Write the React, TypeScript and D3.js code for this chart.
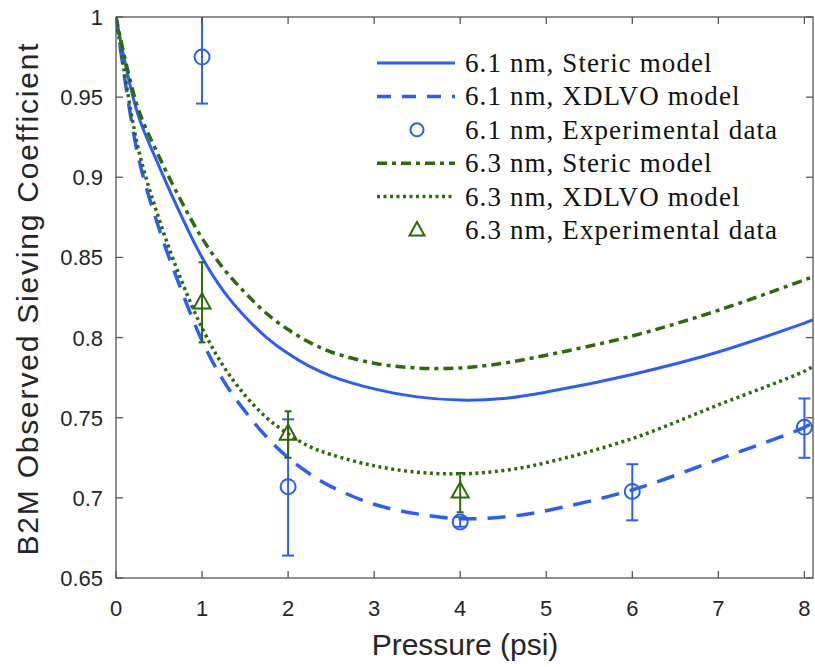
import React from "react";
import * as d3 from "d3";

// ---- data ----
const pressureGrid = [0, 0.25, 0.5, 0.75, 1, 1.25, 1.5, 1.75, 2, 2.25, 2.5, 3, 3.5, 4, 4.5, 5, 6, 7, 8, 8.1];
const steric61 = [1, 0.940, 0.907, 0.877, 0.850, 0.829, 0.813, 0.800, 0.790, 0.782, 0.776, 0.768, 0.763, 0.761, 0.762, 0.766, 0.777, 0.791, 0.809, 0.811];
const xdlvo61 = [1, 0.915, 0.868, 0.831, 0.798, 0.773, 0.754, 0.738, 0.725, 0.715, 0.707, 0.696, 0.690, 0.687, 0.688, 0.692, 0.705, 0.724, 0.744, 0.747];
const steric63 = [1, 0.944, 0.913, 0.886, 0.862, 0.843, 0.828, 0.815, 0.805, 0.797, 0.791, 0.784, 0.781, 0.781, 0.784, 0.789, 0.801, 0.817, 0.836, 0.838];
const xdlvo63 = [1, 0.920, 0.874, 0.837, 0.806, 0.782, 0.764, 0.750, 0.740, 0.732, 0.727, 0.720, 0.716, 0.715, 0.717, 0.722, 0.737, 0.758, 0.779, 0.782];

const exp61X = [1, 2, 4, 6, 8];
const exp61Y = [0.975, 0.707, 0.685, 0.704, 0.744];
const exp61Lo = [0.946, 0.664, 0.682, 0.686, 0.725];
const exp61Hi = [1.005, 0.749, 0.688, 0.721, 0.762];

const exp63X = [1, 2, 4];
const exp63Y = [0.822, 0.740, 0.704];
const exp63Lo = [0.797, 0.725, 0.691];
const exp63Hi = [0.847, 0.754, 0.7155];

const xTicks = [0, 1, 2, 3, 4, 5, 6, 7, 8];
const yTicks = [0.65, 0.7, 0.75, 0.8, 0.85, 0.9, 0.95, 1];
const yTickLabels = ["0.65", "0.7", "0.75", "0.8", "0.85", "0.9", "0.95", "1"];

const legendLabels = [
  "6.1 nm, Steric model",
  "6.1 nm, XDLVO model",
  "6.1 nm, Experimental data",
  "6.3 nm, Steric model",
  "6.3 nm, XDLVO model",
  "6.3 nm, Experimental data",
];

const BLUE = "#2b5ff2";
const GREEN = "#2d6a0c";
const AXIS = "#555555";

export default function App() {
  const W = 815, H = 667;
  const left = 116, right = 813, top = 17, bottom = 578;
  const x = d3.scaleLinear().domain([0, 8.1]).range([left, right]);
  const y = d3.scaleLinear().domain([0.65, 1]).range([bottom, top]);

  const mk = (vals: number[]) =>
    d3.line<number>()
      .x((_, i) => x(pressureGrid[i]))
      .y((v) => y(v))
      .curve(d3.curveCatmullRom.alpha(0.5))(vals) || "";

  const series = [
    { vals: steric61, color: BLUE, dash: "none", w: 3 },
    { vals: xdlvo61, color: BLUE, dash: "18,11", w: 3.5 },
    { vals: steric63, color: GREEN, dash: "10,5,4,5", w: 3.5 },
    { vals: xdlvo63, color: GREEN, dash: "3,3.5", w: 3.5 },
  ];

  const triPath = (cx: number, cy: number, s: number) => {
    const h = s * 0.9;
    return `M${cx},${cy - h * 0.6}L${cx + s / 2},${cy + h * 0.4}L${cx - s / 2},${cy + h * 0.4}Z`;
  };

  const legX0 = 377, legX1 = 455, legMk = 417, legText = 465;
  const legY = (i: number) => 63 + i * 33.4;

  return (
    <svg width={W} height={H} style={{ display: "block", position: "absolute", left: 0, top: 0 }}>
      <rect width={W} height={H} fill="white" />
      <defs>
        <clipPath id="plotclip">
          <rect x={left} y={top} width={right - left} height={bottom - top} />
        </clipPath>
      </defs>

      {/* series lines */}
      <g clipPath="url(#plotclip)">
        {series.map((s, i) => (
          <path key={i} d={mk(s.vals)} fill="none" stroke={s.color} strokeWidth={s.w}
            strokeDasharray={s.dash} />
        ))}
        {/* 6.1 exp */}
        {exp61X.map((px, i) => (
          <g key={"b" + i} stroke={BLUE} strokeWidth={2} fill="none">
            <line x1={x(px)} x2={x(px)} y1={y(exp61Lo[i])} y2={y(exp61Hi[i])} />
            <line x1={x(px) - 6} x2={x(px) + 6} y1={y(exp61Lo[i])} y2={y(exp61Lo[i])} />
            <line x1={x(px) - 6} x2={x(px) + 6} y1={y(exp61Hi[i])} y2={y(exp61Hi[i])} />
            <circle cx={x(px)} cy={y(exp61Y[i])} r={7.5} />
          </g>
        ))}
        {/* 6.3 exp */}
        {exp63X.map((px, i) => (
          <g key={"g" + i} stroke={GREEN} strokeWidth={2} fill="none">
            <line x1={x(px)} x2={x(px)} y1={y(exp63Lo[i])} y2={y(exp63Hi[i])} />
            <line x1={x(px) - 3.5} x2={x(px) + 3.5} y1={y(exp63Lo[i])} y2={y(exp63Lo[i])} />
            <line x1={x(px) - 3.5} x2={x(px) + 3.5} y1={y(exp63Hi[i])} y2={y(exp63Hi[i])} />
            <path d={triPath(x(px), y(exp63Y[i]), 17)} />
          </g>
        ))}
      </g>

      {/* axes box */}
      <rect x={left} y={top} width={right - left} height={bottom - top} fill="none" stroke={AXIS} strokeWidth={1.3} />
      {xTicks.map((t) => (
        <g key={"xt" + t}>
          <line x1={x(t)} x2={x(t)} y1={bottom} y2={bottom - 7} stroke={AXIS} strokeWidth={1.3} />
          <line x1={x(t)} x2={x(t)} y1={top} y2={top + 7} stroke={AXIS} strokeWidth={1.3} />
          <text x={x(t)} y={616} textAnchor="middle" fontFamily="Liberation Sans, Arial, sans-serif"
            fontSize={22} fill="#262626">{t}</text>
        </g>
      ))}
      {yTicks.map((t, i) => (
        <g key={"yt" + t}>
          <line x1={left} x2={left + 7} y1={y(t)} y2={y(t)} stroke={AXIS} strokeWidth={1.3} />
          <line x1={right} x2={right - 7} y1={y(t)} y2={y(t)} stroke={AXIS} strokeWidth={1.3} />
          <text x={103} y={y(t) + 8} textAnchor="end" fontFamily="Liberation Sans, Arial, sans-serif"
            fontSize={22} fill="#262626">{yTickLabels[i]}</text>
        </g>
      ))}

      {/* axis titles */}
      <text x={465} y={655} textAnchor="middle" fontFamily="Liberation Sans, Arial, sans-serif"
        fontSize={30} fill="#262626">Pressure (psi)</text>
      <text transform={`translate(38,${(top + bottom) / 2 + 2}) rotate(-90)`} textAnchor="middle"
        fontFamily="Liberation Sans, Arial, sans-serif" fontSize={30} fill="#262626"
        textLength={512} lengthAdjust="spacing">
        B2M Observed Sieving Coefficient
      </text>

      {/* legend */}
      <g>
        <line x1={legX0} x2={legX1} y1={legY(0)} y2={legY(0)} stroke={BLUE} strokeWidth={3} />
        <line x1={legX0} x2={legX1} y1={legY(1)} y2={legY(1)} stroke={BLUE} strokeWidth={3.5} strokeDasharray="14,11" />
        <circle cx={legMk} cy={legY(2)} r={6.5} fill="none" stroke={BLUE} strokeWidth={2} />
        <line x1={legX0} x2={legX1} y1={legY(3)} y2={legY(3)} stroke={GREEN} strokeWidth={3.5} strokeDasharray="10,5,4,5" />
        <line x1={legX0} x2={legX1} y1={legY(4)} y2={legY(4)} stroke={GREEN} strokeWidth={3.5} strokeDasharray="3,3.5" />
        <path d={triPath(legMk, legY(5), 15)} fill="none" stroke={GREEN} strokeWidth={2} />
        {legendLabels.map((l, i) => (
          <text key={l} x={legText} y={legY(i) + 9} fontFamily="Liberation Serif, Times New Roman, serif"
            fontSize={27} letterSpacing={1.1} fill="#111">{l}</text>
        ))}
      </g>
    </svg>
  );
}
